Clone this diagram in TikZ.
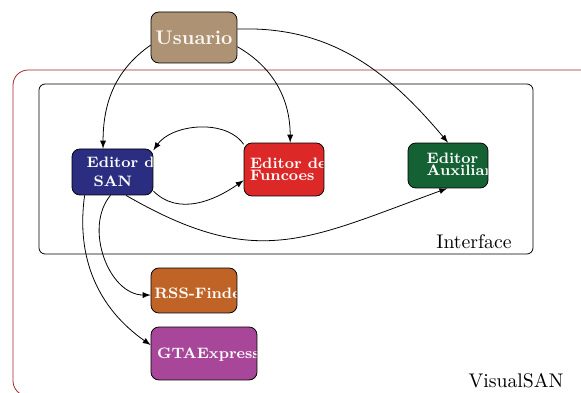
\documentclass[tikz,border=0pt]{standalone}
\usepackage{tikz}
\usepackage{amsmath}
\usetikzlibrary{arrows}

\definecolor{corusuario}{RGB}{173,146,115}
\definecolor{corsan}{RGB}{42,45,128}
\definecolor{corfuncoes}{RGB}{221,40,40}
\definecolor{coraux}{RGB}{20,98,51}
\definecolor{corrss}{RGB}{191,100,38}
\definecolor{corgta}{RGB}{168,71,154}
\definecolor{corvisual}{RGB}{165,32,42}

\tikzset{
  modulo/.style={draw, rounded corners=0.14cm, inner sep=0pt, fill=#1},
  rotulo/.style={text=white, font=\fontsize{7.65}{9.5}\selectfont\bfseries,
    align=left, inner sep=0pt, anchor=west},
  seta/.style={->, >=latex, thin},
}

\begin{document}
\begin{tikzpicture}[x=0.0178cm, y=0.0178cm]
  \clip (0,0) rectangle (581,393);
  % VisualSAN
  \draw[corvisual, rounded corners=0.27cm] (13,-3) rectangle (600,323);
  \node (visual) at (516,12) {VisualSAN};
  % Interface
  \draw[rounded corners=0.11cm] (39,139) rectangle (533,309);
  \node (interface) at (474,151) {Interface};
  % Modules
  \node[modulo=corusuario, minimum width=1.531cm, minimum height=0.908cm,
    path picture={\node[rotulo, anchor=center, text=white!94!brown,
      font=\bfseries] at (path picture bounding box.center) {Usuario};}]
    (usr) at (194,355.5) {};
  \node[modulo=corsan, minimum width=1.442cm, minimum height=0.819cm,
    path picture={\node[rotulo] at ([shift={(12,0)}]path picture bounding box.west)
      {Editor de\\\hspace*{3.5pt}SAN};}]
    (esan) at (112.5,221) {};
  \node[modulo=corfuncoes, minimum width=1.424cm, minimum height=0.943cm,
    path picture={\node[rotulo] at ([shift={(4,0)}]path picture bounding box.west)
      {Editor de\\[-3.5pt]Funcoes};}]
    (efun) at (284,223.5) {};
  \node[modulo=coraux, minimum width=1.424cm, minimum height=0.801cm,
    path picture={\node[rotulo] at ([shift={(11,1.5)}]path picture bounding box.west)
      {Editor\\[-3.5pt]Auxiliar};}]
    (eaux) at (448,227.5) {};
  \node[modulo=corrss, minimum width=1.531cm, minimum height=0.801cm,
    path picture={\node[rotulo] at ([shift={(3,-3)}]path picture bounding box.west)
      {RSS-Finder};}]
    (rss) at (194,102.5) {};
  \node[modulo=corgta, minimum width=1.887cm, minimum height=0.943cm,
    path picture={\node[rotulo] at ([shift={(4,-1)}]path picture bounding box.west)
      {GTAExpress};}]
    (gta) at (204,39.5) {};
  % Connectors
  \draw[seta] (usr.190) to[out=215, in=90] (esan.112);
  \draw[seta] (usr.-12) to[out=-30, in=90] (efun.77);
  \draw[seta] (usr.11) to[out=2, in=130] (eaux.north);
  \draw[seta] (efun.148) to[out=125, in=55, looseness=0.9] (esan.28);
  \draw[seta] (esan.-25) to[out=-45, in=215] (efun.195);
  \draw[seta] (esan.-60) to[out=-30, in=200, looseness=1.2] (eaux.268);
  \draw[seta] (esan.-95) to[out=230, in=180] (rss.186);
  \draw[seta] (esan.220) to[out=262, in=145] (gta.171);
\end{tikzpicture}
\end{document}
